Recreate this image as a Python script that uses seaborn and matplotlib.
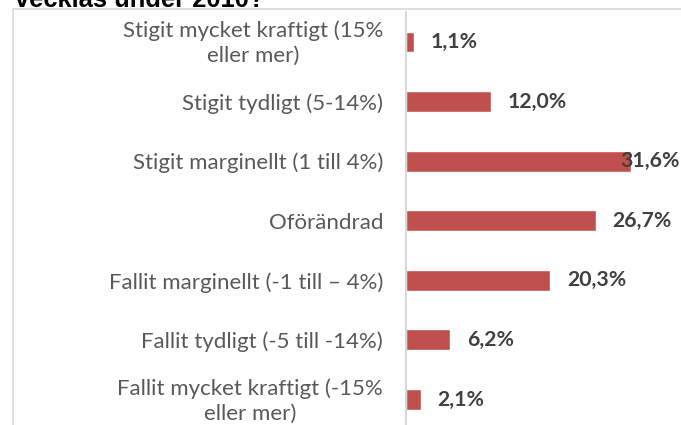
import matplotlib
matplotlib.use("Agg")
import matplotlib.pyplot as plt
import matplotlib.transforms as mtransforms
import seaborn as sns
import pandas as pd
from matplotlib.patches import Rectangle

categories = [
    "Stigit mycket kraftigt (15%\neller mer)",
    "Stigit tydligt (5-14%)",
    "Stigit marginellt (1 till 4%)",
    "Oförändrad",
    "Fallit marginellt (-1 till – 4%)",
    "Fallit tydligt (-5 till -14%)",
    "Fallit mycket kraftigt (-15%\neller mer)",
]
values = [1.1, 12.0, 31.6, 26.7, 20.3, 6.2, 2.1]
value_labels = ["1,1%", "12,0%", "31,6%", "26,7%", "20,3%", "6,2%", "2,1%"]
title_text = "vecklas under 2010?"

sns.set_theme(style="white")
plt.rcParams["font.family"] = ["Lato", "DejaVu Sans"]

W, H = 681, 425
fig = plt.figure(figsize=(W / 100, H / 100), dpi=100)

# axes placement in pixels
x0, x1 = 406, 655
ytop, ybot = 12.2, 429.3
ax = fig.add_axes([x0 / W, 1 - ybot / H, (x1 - x0) / W, (ybot - ytop) / H])

df = pd.DataFrame({"cat": categories, "val": values})
sns.barplot(data=df, y="cat", x="val", orient="h", color="#C0504D",
            saturation=1, width=0.35, ax=ax)

ax.set_xlim(0, 35)
ax.set_ylim(6.5, -0.5)
ax.set_xlabel("")
ax.set_ylabel("")
ax.set_xticks([])
for s in ["top", "right", "bottom"]:
    ax.spines[s].set_visible(False)
ax.spines["left"].set_color("#d9d9d9")
ax.spines["left"].set_linewidth(1.5)
ax.tick_params(axis="y", length=0, pad=16.5, labelsize=16, labelcolor="#595959")
up = mtransforms.ScaledTranslation(0, 3 / 100, fig.dpi_scale_trans)
for t in ax.get_yticklabels():
    t.set_multialignment("center")
    t.set_linespacing(1.3)
    if "\n" in t.get_text():
        t.set_transform(t.get_transform() + up)
ax.patch.set_alpha(0)

texts = []
for i, (v, lab) in enumerate(zip(values, value_labels)):
    t = ax.annotate(lab, xy=(v, i), xytext=(12, 0), textcoords="offset points",
                    ha="left", va="center", fontsize=15.3, fontweight="bold",
                    color="#404040", annotation_clip=False)
    texts.append(t)

# chart area border
fig.patches.append(Rectangle((13 / W, -0.2), 1.2, 1.2 - 9 / H, transform=fig.transFigure,
                             fill=False, edgecolor="#d9d9d9", linewidth=1.2, zorder=0))

fig.text(15 / W, 1 - 7 / H, title_text, ha="left", va="baseline",
         fontsize=18.4, fontweight="bold", color="black", family="Liberation Sans")

# keep value labels inside figure
fig.canvas.draw()
r = fig.canvas.get_renderer()
for t in texts:
    bb = t.get_window_extent(r)
    if bb.x1 > W - 1:
        shift = (bb.x1 - (W - 1)) * 72 / 100
        t.set_position((12 - shift, 0))

fig.savefig("out.png", dpi=100)
